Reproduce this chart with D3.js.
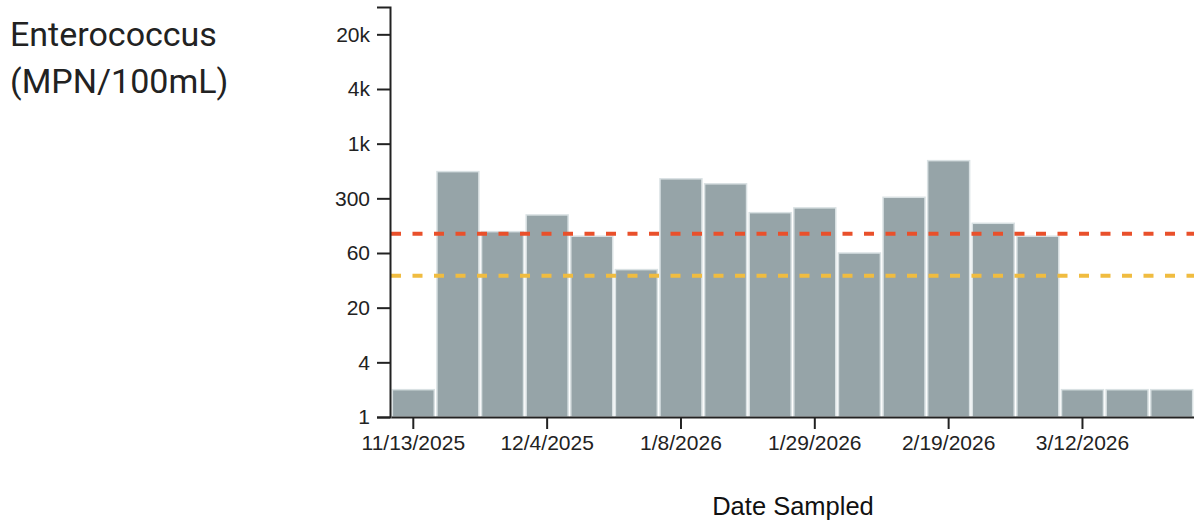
<!DOCTYPE html>
<html>
<head>
<meta charset="utf-8">
<script src="https://cdn.jsdelivr.net/npm/d3@7"></script>
<style>
  body { margin: 0; background: #fff; }
  svg { display: block; }
</style>
</head>
<body>
<svg id="chart"></svg>
<script>
// dates sampled (one bar each) and Enterococcus result, MPN/100mL
const dates = ["11/13/2025", "11/20/2025", "11/26/2025", "12/4/2025", "12/11/2025", "12/18/2025",
  "1/8/2026", "1/15/2026", "1/22/2026", "1/29/2026", "2/5/2026", "2/12/2026",
  "2/19/2026", "2/26/2026", "3/5/2026", "3/12/2026", "3/19/2026", "3/26/2026"];
const values = [2, 504, 110, 168, 98, 42, 420, 370, 178, 201, 64, 263, 666, 136, 98, 2, 2, 2];
const xTickDates = ["11/13/2025", "12/4/2025", "1/8/2026", "1/29/2026", "2/19/2026", "3/12/2026"];
const yTicks = [1, 4, 16, 64, 256, 1024, 4096, 16384];
const thresholds = [
  { value: 104, color: "#e9502b" },
  { value: 36, color: "#f0bc40" }
];

const width = 1194, height = 521;
const svg = d3.select("#chart").attr("width", width).attr("height", height);

const x = d3.scaleBand()
  .domain(dates)
  .range([391, 1194])
  .paddingInner(0.06)
  .paddingOuter(0.03);

const y = d3.scaleLog()
  .base(2)
  .domain([1, 32768])
  .range([417, 7]);

// bars
svg.append("g")
  .selectAll("rect")
  .data(values)
  .join("rect")
  .attr("x", (d, i) => x(dates[i]))
  .attr("y", d => y(d))
  .attr("width", x.bandwidth())
  .attr("height", d => y(1) - y(d))
  .attr("fill", "#96a4a8")
  .attr("stroke", "#d9e1e3")
  .attr("stroke-width", 1.5);

// threshold lines
svg.append("g")
  .selectAll("line")
  .data(thresholds)
  .join("line")
  .attr("x1", 391)
  .attr("x2", width)
  .attr("y1", d => y(d.value))
  .attr("y2", d => y(d.value))
  .attr("stroke", d => d.color)
  .attr("stroke-width", 4)
  .attr("stroke-dasharray", "10,11.5");

// y axis
const yAxis = svg.append("g")
  .attr("transform", "translate(390,0)")
  .call(d3.axisLeft(y)
    .tickValues(yTicks)
    .tickFormat(d3.format(".1~s"))
    .tickSize(13)
    .tickPadding(7));

// x axis
const xAxis = svg.append("g")
  .attr("transform", "translate(0,417)")
  .call(d3.axisBottom(x)
    .tickValues(xTickDates)
    .tickSize(12)
    .tickSizeOuter(0)
    .tickPadding(6));

[yAxis, xAxis].forEach(g => {
  g.selectAll("path, line").attr("stroke", "#222").attr("stroke-width", 2);
  g.selectAll("text")
    .attr("fill", "#222")
    .style("font-family", "'Liberation Sans', Arial, sans-serif")
    .style("font-size", "21px");
});

// axis title
svg.append("text")
  .attr("x", 793)
  .attr("y", 515)
  .attr("text-anchor", "middle")
  .attr("fill", "#111")
  .style("font-family", "'Liberation Sans', Arial, sans-serif")
  .style("font-size", "25.5px")
  .text("Date Sampled");

// chart title
const title = svg.append("text")
  .attr("fill", "#222")
  .style("font-family", "Roboto, sans-serif")
  .style("font-size", "34px");
title.append("tspan").attr("x", 10).attr("y", 46).text("Enterococcus");
title.append("tspan").attr("x", 10).attr("y", 93).text("(MPN/100mL)");
</script>
</body>
</html>
